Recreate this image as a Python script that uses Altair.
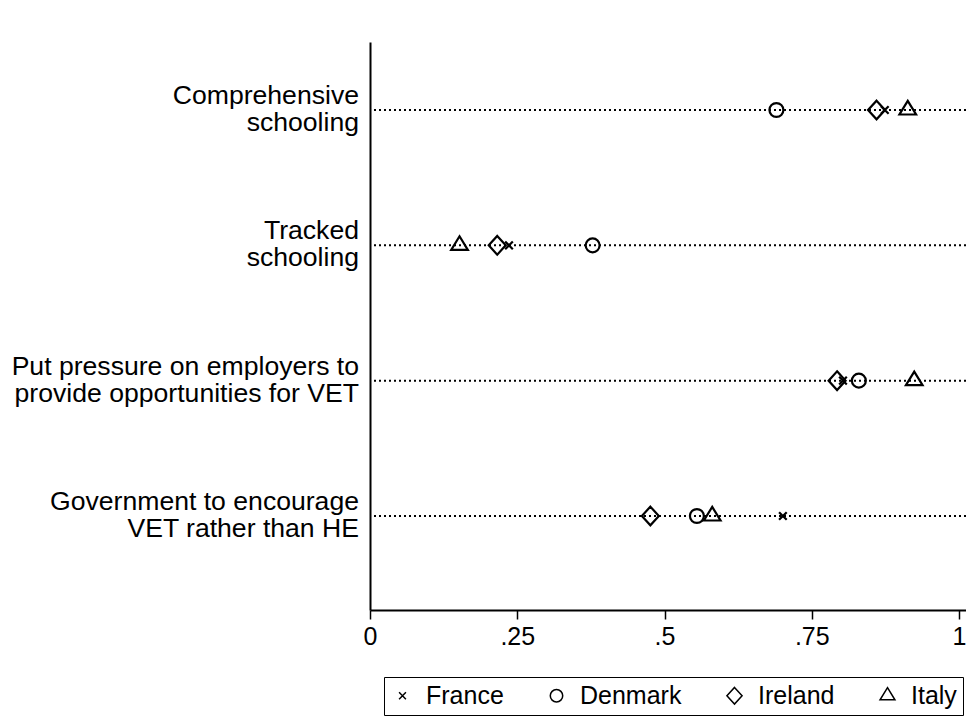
import altair as alt
import pandas as pd

# ---- data ----
categories = [
    "Comprehensive\nschooling",
    "Tracked\nschooling",
    "Put pressure on employers to\nprovide opportunities for VET",
    "Government to encourage\nVET rather than HE",
]
rows = [1, 2, 3, 4]
countries = ["France", "Denmark", "Ireland", "Italy"]
france = [0.874, 0.236, 0.803, 0.701]
denmark = [0.690, 0.378, 0.830, 0.555]
ireland = [0.860, 0.216, 0.793, 0.476]
italy = [0.913, 0.152, 0.924, 0.581]
x_ticks = [0, 0.25, 0.5, 0.75, 1]

# marker shapes (Stata-like): small x, hollow circle, diamond, triangle
shapes = [
    "M-0.45,-0.45L0.45,0.45M-0.45,0.45L0.45,-0.45",
    "M-0.82,0A0.82,0.82 0 1,0 0.82,0A0.82,0.82 0 1,0 -0.82,0Z",
    "M0,-1.1L1,0L0,1.1L-1,0Z",
    "M0,-1.07L0.98,0.53L-0.98,0.53Z",
]

series = {"France": france, "Denmark": denmark, "Ireland": ireland, "Italy": italy}
points = pd.DataFrame(
    [
        {"country": c, "row": r, "value": v}
        for c in countries
        for r, v in zip(rows, series[c])
    ]
)
cats = pd.DataFrame({"cat": categories, "row": rows})

FONT = "Liberation Sans"
W, H = 596, 568

yscale = alt.Scale(domain=[0.4975, 4.6946], reverse=True, nice=False, zero=False)
yaxis = alt.Axis(
    labels=False, ticks=False, grid=False, title=None,
    domainColor="black", domainWidth=2,
)
xscale = alt.Scale(domain=[0, W / 589.0], nice=False, zero=False)
xaxis = alt.Axis(
    values=x_ticks,
    labelExpr="replace(format(datum.value, '~g'), '0.', '.')",
    grid=False, title=None, labelFlush=False,
    tickSize=9, tickWidth=1.5, tickColor="black",
    domainColor="black", domainWidth=2,
    labelFont=FONT, labelFontSize=25, labelColor="black", labelPadding=5,
)

rules = alt.Chart(cats).mark_rule(
    strokeDash=[2, 3], strokeWidth=2, color="black"
).encode(y=alt.Y("row:Q", scale=yscale, axis=yaxis))

labels = alt.Chart(cats).mark_text(
    align="right", baseline="middle", font=FONT, fontSize=26.6,
    lineHeight=27, lineBreak="\n", color="black", dy=-14,
).encode(
    x=alt.value(-11),
    y=alt.Y("row:Q", scale=yscale),
    text="cat:N",
)

pts = alt.Chart(points).mark_point(
    filled=False, strokeWidth=2.2, size=289, opacity=1
).encode(
    x=alt.X("value:Q", scale=xscale, axis=xaxis),
    y=alt.Y("row:Q", scale=yscale, axis=yaxis),
    color=alt.value("black"),
    shape=alt.Shape(
        "country:N",
        scale=alt.Scale(domain=countries, range=shapes),
        title=None,
        legend=alt.Legend(
            orient="none", legendX=14, legendY=635,
            direction="horizontal", columns=4,
            strokeColor="black", fillColor="white", padding=6,
            labelFont=FONT, labelFontSize=25, labelColor="black",
            labelOffset=11, columnPadding=40,
            symbolSize=230, symbolStrokeWidth=1.5,
            symbolStrokeColor="black", symbolFillColor="transparent",
        ),
    ),
)

chart = (
    alt.layer(rules, labels, pts)
    .properties(
        width=W, height=H,
        autosize=alt.AutoSizeParams(type="none"),
        padding={"left": 362, "top": 34, "right": 0, "bottom": 106},
        background="white",
    )
    .configure_view(stroke="transparent")
)

chart.save("out.html", embed_options={"renderer": "svg", "actions": False})
